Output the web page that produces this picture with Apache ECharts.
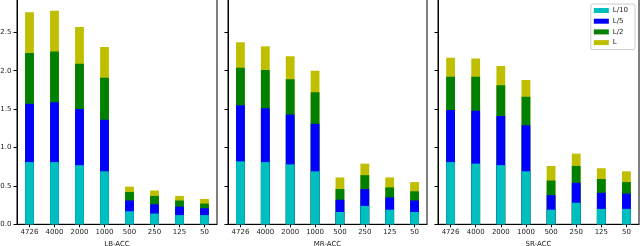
<!DOCTYPE html>
<html>
<head>
<meta charset="utf-8">
<script src="https://cdn.jsdelivr.net/npm/echarts@6/dist/echarts.min.js"></script>
<style>
html,body{margin:0;padding:0;background:#fff;}
#c{width:640px;height:246px;}
</style>
</head>
<body>
<div id="c"></div>
<script>
const categories = ['4726','4000','2000','1000','500','250','125','50'];
const panelNames = ['LB-ACC','MR-ACC','SR-ACC'];
const seriesNames = ['L/10','L/5','L/2','L'];
const seriesColors = ['#00BFBF','#0000FF','#008000','#BFBF00'];
const yTickValues = [0, 0.5, 1.0, 1.5, 2.0, 2.5];

// cumulative bar heights (each drawn from zero, overlapping)
const lb_L10 = [0.81, 0.81, 0.77, 0.69, 0.17, 0.14, 0.12, 0.12];
const lb_L5  = [1.57, 1.59, 1.50, 1.36, 0.31, 0.26, 0.23, 0.21];
const lb_L2  = [2.23, 2.25, 2.09, 1.91, 0.42, 0.37, 0.31, 0.27];
const lb_L   = [2.76, 2.78, 2.57, 2.31, 0.49, 0.44, 0.37, 0.33];

const mr_L10 = [0.82, 0.81, 0.78, 0.69, 0.16, 0.24, 0.19, 0.16];
const mr_L5  = [1.55, 1.51, 1.43, 1.31, 0.32, 0.46, 0.35, 0.31];
const mr_L2  = [2.04, 2.01, 1.89, 1.72, 0.46, 0.64, 0.48, 0.43];
const mr_L   = [2.37, 2.32, 2.19, 2.00, 0.61, 0.79, 0.61, 0.55];

const sr_L10 = [0.81, 0.79, 0.77, 0.69, 0.19, 0.28, 0.20, 0.20];
const sr_L5  = [1.49, 1.48, 1.41, 1.29, 0.38, 0.54, 0.41, 0.40];
const sr_L2  = [1.92, 1.92, 1.81, 1.66, 0.57, 0.76, 0.59, 0.55];
const sr_L   = [2.17, 2.16, 2.06, 1.88, 0.76, 0.92, 0.73, 0.69];

const panelData = [
  [lb_L10, lb_L5, lb_L2, lb_L],
  [mr_L10, mr_L5, mr_L2, mr_L],
  [sr_L10, sr_L5, sr_L2, sr_L]
];

const FONT = 'DejaVu Sans';
const grids = [
  {left: 17, width: 200, top: -3, bottom: 21.7},
  {left: 228, width: 199, top: -3, bottom: 21.7},
  {left: 438, width: 201, top: -3, bottom: 21.7}
];
const yMax = 2.96;

const option = {
  animation: false,
  textStyle: {fontFamily: FONT},
  grid: grids.map(g => Object.assign({show: true, borderColor: '#000', borderWidth: 1, containLabel: false, outerBoundsMode: 'none'}, g)),
  legend: {
    orient: 'vertical',
    right: 5,
    top: 4,
    data: seriesNames,
    icon: 'rect',
    itemWidth: 15,
    itemHeight: 5,
    itemGap: 2.7,
    padding: [2.5, 7, 3, 3],
    borderColor: '#cccccc',
    borderWidth: 1,
    borderRadius: 2,
    backgroundColor: 'rgba(255,255,255,0.8)',
    textStyle: {fontFamily: FONT, fontSize: 7, color: '#222', lineHeight: 8, padding: [0,0,0,-1]}
  },
  xAxis: panelNames.map((name, i) => ({
    type: 'category',
    gridIndex: i,
    data: categories,
    name: name,
    nameLocation: 'middle',
    nameGap: 11.5,
    nameTextStyle: {fontFamily: FONT, fontSize: 7, color: '#222'},
    axisLine: {show: true, lineStyle: {color: '#000', width: 1}},
    axisTick: {show: true, alignWithLabel: true, length: 3, lineStyle: {color: '#000'}},
    axisLabel: {fontFamily: FONT, fontSize: 7, color: '#222', margin: 4.5, interval: 0},
    splitLine: {show: false}
  })),
  yAxis: panelNames.map((name, i) => ({
    type: 'value',
    gridIndex: i,
    min: 0,
    max: yMax,
    interval: 0.5,
    axisLine: {show: true, lineStyle: {color: '#000', width: 1}},
    axisTick: {show: true, length: 3.5, lineStyle: {color: '#000'}},
    axisLabel: {
      show: i === 0,
      fontFamily: FONT, fontSize: 7, color: '#222', margin: 5.5,
      formatter: v => yTickValues.some(t => Math.abs(t - v) < 1e-9) ? v.toFixed(1) : ''
    },
    splitLine: {show: false}
  })),
  series: []
};

// draw tallest first (L) so shorter ones overlay it
for (let p = 0; p < 3; p++) {
  for (let s = 3; s >= 0; s--) {
    option.series.push({
      type: 'bar',
      name: seriesNames[s],
      xAxisIndex: p,
      yAxisIndex: p,
      data: panelData[p][s],
      barWidth: 8.8,
      barGap: '-100%',
      itemStyle: {color: seriesColors[s]},
      emphasis: {disabled: true}
    });
  }
}

const chart = echarts.init(document.getElementById('c'), null, {renderer: 'canvas'});
chart.setOption(option);
</script>
</body>
</html>
